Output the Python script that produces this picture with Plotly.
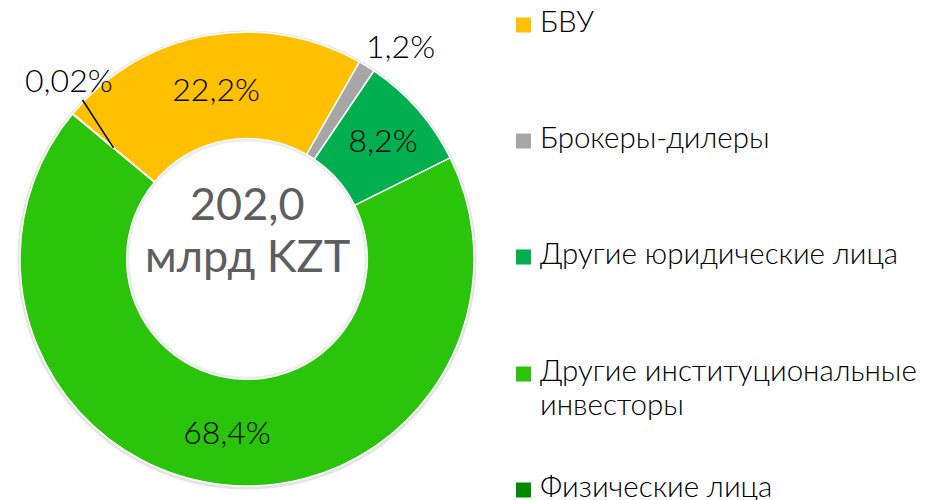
import math
import plotly.graph_objects as go

labels = ["БВУ", "Брокеры-дилеры", "Другие юридические лица",
          "Другие институциональные инвесторы", "Физические лица"]
legend_text = ["БВУ", "Брокеры-дилеры", "Другие юридические лица",
               "Другие институциональные<br>инвесторы", "Физические лица"]
values = [22.2, 1.2, 8.2, 68.4, 0.02]
value_text = ["22,2%", "1,2%", "8,2%", "68,4%", "0,02%"]
colors = ["#FFC000", "#A6A6A6", "#00B050", "#2AC40A", "#008A00"]
total_text = "202,0<br>млрд KZT"

W, H = 928, 500
OFF = 8  # page body margin
CX, CY, R = 247 - OFF, 259 - OFF, 227
HOLE = 0.53
ROT = -50.2
FONT = "Lato"
LBL = dict(family=FONT, size=32, color="black", weight=300)


def px(x):
    return x / W


def py(y):
    return 1 - y / H


fig = go.Figure()
fig.add_trace(go.Pie(
    labels=labels, values=values, sort=False, direction="clockwise",
    rotation=ROT, hole=HOLE,
    marker=dict(colors=colors, line=dict(color="white", width=1.5)),
    text=value_text, textinfo="text",
    textposition=["inside", "none", "inside", "inside", "none"],
    insidetextorientation="horizontal",
    textfont=LBL,
    domain=dict(x=[(CX - R) / W, (CX + R) / W],
                y=[(H - CY - R) / H, (H - CY + R) / H]),
    showlegend=False, hoverinfo="label+percent",
))

# faint shadow rings
fig.add_shape(type="circle", xref="paper", yref="paper", layer="below",
              x0=px(CX - R - 1), x1=px(CX + R + 1),
              y0=py(CY + R + 2), y1=py(CY - R),
              fillcolor="rgba(0,0,0,0)", line=dict(width=3, color="#E4E4E4"))
ri = R * HOLE
fig.add_shape(type="circle", xref="paper", yref="paper", layer="above",
              x0=px(CX - ri + 1.5), x1=px(CX + ri - 1.5),
              y0=py(CY + ri - 1.5), y1=py(CY - ri + 1.5),
              fillcolor="rgba(0,0,0,0)", line=dict(width=2.5, color="rgba(0,0,0,0.07)"))

# center text, one annotation per line
for k, line in enumerate(total_text.split("<br>")):
    fig.add_annotation(x=px(CX), y=py(203 - OFF + k * 52), xref="paper", yref="paper",
                       xanchor="center", yanchor="middle",
                       text=line, showarrow=False,
                       font=dict(family=FONT, size=45, color="#5E5E5E"))

# label for the small grey slice
fig.add_annotation(x=px(400 - OFF), y=py(46 - OFF), xref="paper", yref="paper",
                   xanchor="center", yanchor="middle",
                   text=value_text[1], showarrow=False, font=LBL)

# leader label for tiny slice (angle computed from data)
tot = sum(values)
start = ROT
for v in values[:-1]:
    start += v / tot * 360
mid_angle = math.radians(start + values[-1] / tot * 360 / 2)
rm = R * (1 + HOLE) / 2
tx = CX + rm * math.sin(mid_angle)
ty = CY - rm * math.cos(mid_angle)
fig.add_annotation(x=px(tx), y=py(ty), xref="paper", yref="paper",
                   text=value_text[-1], showarrow=True, arrowhead=0,
                   arrowwidth=1.5, arrowcolor="black",
                   ax=(69 - OFF) - tx, ay=(79 - OFF) - ty,
                   font=LBL)

# manual legend
leg_y = [25, 141, 257, 374, 490]
LINE = 34
for i, lab in enumerate(legend_text):
    y = leg_y[i] - OFF
    fig.add_shape(type="rect", xref="paper", yref="paper",
                  x0=px(516 - OFF), x1=px(531 - OFF), y0=py(y + 7.5), y1=py(y - 7.5),
                  fillcolor=colors[i], line=dict(width=0))
    for k, line in enumerate(lab.split("<br>")):
        fig.add_annotation(x=px(540 - OFF - 2), y=py(y - 4.5 + k * LINE),
                           xref="paper", yref="paper",
                           text=line, showarrow=False, xanchor="left", yanchor="middle",
                           align="left",
                           font=dict(family=FONT, size=29.5, color="black", weight=300))

fig.update_layout(width=W, height=H, margin=dict(l=0, r=0, t=0, b=0),
                  paper_bgcolor="white", plot_bgcolor="white")
fig.write_html("out.html")
